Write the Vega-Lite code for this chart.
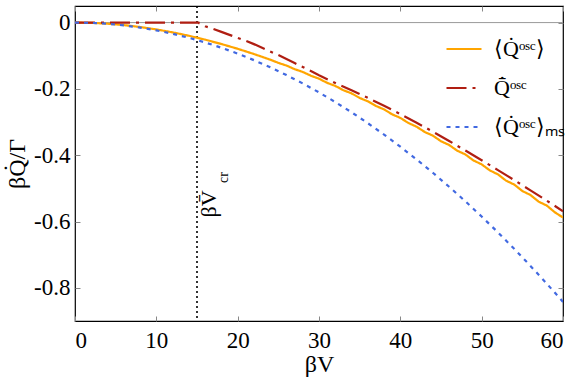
{
  "$schema": "https://vega.github.io/schema/vega-lite/v6.json",
  "width": 488,
  "height": 315,
  "autosize": {"type": "none"},
  "padding": {"left": 75, "top": 6, "right": 18, "bottom": 57},
  "background": "white",
  "config": {
    "view": {"stroke": "black", "strokeWidth": 1.2},
    "font": "Liberation Serif",
    "axis": {
      "labelFont": "Liberation Serif",
      "titleFont": "Liberation Serif",
      "labelColor": "black",
      "titleColor": "black",
      "labelFontSize": 23,
      "titleFontSize": 24,
      "titleFontWeight": "normal",
      "domain": false,
      "grid": false,
      "tickColor": "#888888",
      "tickSize": -5,
      "tickWidth": 1
    },
    "legend": {
      "orient": "none",
      "legendX": 370,
      "legendY": 24,
      "labelFont": "Liberation Serif",
      "labelFontSize": 22,
      "labelColor": "black",
      "symbolType": "stroke",
      "symbolSize": 1225,
      "symbolStrokeWidth": 2.2,
      "rowPadding": 9,
      "labelOffset": 11,
      "labelLimit": 200
    }
  },
  "datasets": {
    "curves": [
      {"x": 0, "y": 0, "s": "⟨Q̇ᵒˢᶜ⟩"},
      {"x": 2, "y": -0.0009, "s": "⟨Q̇ᵒˢᶜ⟩"},
      {"x": 4, "y": -0.0034, "s": "⟨Q̇ᵒˢᶜ⟩"},
      {"x": 6, "y": -0.0076, "s": "⟨Q̇ᵒˢᶜ⟩"},
      {"x": 8, "y": -0.0133, "s": "⟨Q̇ᵒˢᶜ⟩"},
      {"x": 10, "y": -0.0206, "s": "⟨Q̇ᵒˢᶜ⟩"},
      {"x": 12, "y": -0.0295, "s": "⟨Q̇ᵒˢᶜ⟩"},
      {"x": 14, "y": -0.0397, "s": "⟨Q̇ᵒˢᶜ⟩"},
      {"x": 16, "y": -0.0515, "s": "⟨Q̇ᵒˢᶜ⟩"},
      {"x": 18, "y": -0.0646, "s": "⟨Q̇ᵒˢᶜ⟩"},
      {"x": 20, "y": -0.0790, "s": "⟨Q̇ᵒˢᶜ⟩"},
      {"x": 22, "y": -0.0948, "s": "⟨Q̇ᵒˢᶜ⟩"},
      {"x": 24, "y": -0.1118, "s": "⟨Q̇ᵒˢᶜ⟩"},
      {"x": 25, "y": -0.1215, "s": "⟨Q̇ᵒˢᶜ⟩"},
      {"x": 26, "y": -0.1296, "s": "⟨Q̇ᵒˢᶜ⟩"},
      {"x": 27, "y": -0.1405, "s": "⟨Q̇ᵒˢᶜ⟩"},
      {"x": 28, "y": -0.1488, "s": "⟨Q̇ᵒˢᶜ⟩"},
      {"x": 29, "y": -0.1603, "s": "⟨Q̇ᵒˢᶜ⟩"},
      {"x": 30, "y": -0.1692, "s": "⟨Q̇ᵒˢᶜ⟩"},
      {"x": 31, "y": -0.1818, "s": "⟨Q̇ᵒˢᶜ⟩"},
      {"x": 32, "y": -0.1910, "s": "⟨Q̇ᵒˢᶜ⟩"},
      {"x": 33, "y": -0.2040, "s": "⟨Q̇ᵒˢᶜ⟩"},
      {"x": 34, "y": -0.2135, "s": "⟨Q̇ᵒˢᶜ⟩"},
      {"x": 35, "y": -0.2272, "s": "⟨Q̇ᵒˢᶜ⟩"},
      {"x": 36, "y": -0.2375, "s": "⟨Q̇ᵒˢᶜ⟩"},
      {"x": 37, "y": -0.2515, "s": "⟨Q̇ᵒˢᶜ⟩"},
      {"x": 38, "y": -0.2618, "s": "⟨Q̇ᵒˢᶜ⟩"},
      {"x": 39, "y": -0.2768, "s": "⟨Q̇ᵒˢᶜ⟩"},
      {"x": 40, "y": -0.2874, "s": "⟨Q̇ᵒˢᶜ⟩"},
      {"x": 41, "y": -0.3030, "s": "⟨Q̇ᵒˢᶜ⟩"},
      {"x": 42, "y": -0.3140, "s": "⟨Q̇ᵒˢᶜ⟩"},
      {"x": 43, "y": -0.3300, "s": "⟨Q̇ᵒˢᶜ⟩"},
      {"x": 44, "y": -0.3410, "s": "⟨Q̇ᵒˢᶜ⟩"},
      {"x": 45, "y": -0.3578, "s": "⟨Q̇ᵒˢᶜ⟩"},
      {"x": 46, "y": -0.3692, "s": "⟨Q̇ᵒˢᶜ⟩"},
      {"x": 47, "y": -0.3865, "s": "⟨Q̇ᵒˢᶜ⟩"},
      {"x": 48, "y": -0.3978, "s": "⟨Q̇ᵒˢᶜ⟩"},
      {"x": 49, "y": -0.4160, "s": "⟨Q̇ᵒˢᶜ⟩"},
      {"x": 50, "y": -0.4275, "s": "⟨Q̇ᵒˢᶜ⟩"},
      {"x": 51, "y": -0.4458, "s": "⟨Q̇ᵒˢᶜ⟩"},
      {"x": 52, "y": -0.4578, "s": "⟨Q̇ᵒˢᶜ⟩"},
      {"x": 53, "y": -0.4768, "s": "⟨Q̇ᵒˢᶜ⟩"},
      {"x": 54, "y": -0.4885, "s": "⟨Q̇ᵒˢᶜ⟩"},
      {"x": 55, "y": -0.5080, "s": "⟨Q̇ᵒˢᶜ⟩"},
      {"x": 56, "y": -0.5200, "s": "⟨Q̇ᵒˢᶜ⟩"},
      {"x": 57, "y": -0.5400, "s": "⟨Q̇ᵒˢᶜ⟩"},
      {"x": 58, "y": -0.5518, "s": "⟨Q̇ᵒˢᶜ⟩"},
      {"x": 59, "y": -0.5722, "s": "⟨Q̇ᵒˢᶜ⟩"},
      {"x": 60, "y": -0.5880, "s": "⟨Q̇ᵒˢᶜ⟩"},

      {"x": 0, "y": 0, "s": "Q̇̄ᵒˢᶜ"},
      {"x": 15.2, "y": 0, "s": "Q̇̄ᵒˢᶜ"},
      {"x": 15.25, "y": -0.002, "s": "Q̇̄ᵒˢᶜ"},
      {"x": 16, "y": -0.011, "s": "Q̇̄ᵒˢᶜ"},
      {"x": 17, "y": -0.019, "s": "Q̇̄ᵒˢᶜ"},
      {"x": 18, "y": -0.028, "s": "Q̇̄ᵒˢᶜ"},
      {"x": 19, "y": -0.037, "s": "Q̇̄ᵒˢᶜ"},
      {"x": 20, "y": -0.046, "s": "Q̇̄ᵒˢᶜ"},
      {"x": 21, "y": -0.055, "s": "Q̇̄ᵒˢᶜ"},
      {"x": 22, "y": -0.065, "s": "Q̇̄ᵒˢᶜ"},
      {"x": 23, "y": -0.076, "s": "Q̇̄ᵒˢᶜ"},
      {"x": 24, "y": -0.087, "s": "Q̇̄ᵒˢᶜ"},
      {"x": 25, "y": -0.098, "s": "Q̇̄ᵒˢᶜ"},
      {"x": 26, "y": -0.110, "s": "Q̇̄ᵒˢᶜ"},
      {"x": 27, "y": -0.122, "s": "Q̇̄ᵒˢᶜ"},
      {"x": 28, "y": -0.134, "s": "Q̇̄ᵒˢᶜ"},
      {"x": 29, "y": -0.146, "s": "Q̇̄ᵒˢᶜ"},
      {"x": 30, "y": -0.159, "s": "Q̇̄ᵒˢᶜ"},
      {"x": 32, "y": -0.182, "s": "Q̇̄ᵒˢᶜ"},
      {"x": 34, "y": -0.204, "s": "Q̇̄ᵒˢᶜ"},
      {"x": 36, "y": -0.227, "s": "Q̇̄ᵒˢᶜ"},
      {"x": 38, "y": -0.251, "s": "Q̇̄ᵒˢᶜ"},
      {"x": 40, "y": -0.276, "s": "Q̇̄ᵒˢᶜ"},
      {"x": 42, "y": -0.302, "s": "Q̇̄ᵒˢᶜ"},
      {"x": 44, "y": -0.329, "s": "Q̇̄ᵒˢᶜ"},
      {"x": 46, "y": -0.357, "s": "Q̇̄ᵒˢᶜ"},
      {"x": 48, "y": -0.386, "s": "Q̇̄ᵒˢᶜ"},
      {"x": 50, "y": -0.415, "s": "Q̇̄ᵒˢᶜ"},
      {"x": 52, "y": -0.445, "s": "Q̇̄ᵒˢᶜ"},
      {"x": 54, "y": -0.475, "s": "Q̇̄ᵒˢᶜ"},
      {"x": 56, "y": -0.506, "s": "Q̇̄ᵒˢᶜ"},
      {"x": 58, "y": -0.537, "s": "Q̇̄ᵒˢᶜ"},
      {"x": 60, "y": -0.569, "s": "Q̇̄ᵒˢᶜ"},

      {"x": 0, "y": 0, "s": "⟨Q̇ᵒˢᶜ⟩ₘₛ"},
      {"x": 2, "y": -0.0009, "s": "⟨Q̇ᵒˢᶜ⟩ₘₛ"},
      {"x": 4, "y": -0.0037, "s": "⟨Q̇ᵒˢᶜ⟩ₘₛ"},
      {"x": 6, "y": -0.0084, "s": "⟨Q̇ᵒˢᶜ⟩ₘₛ"},
      {"x": 8, "y": -0.0150, "s": "⟨Q̇ᵒˢᶜ⟩ₘₛ"},
      {"x": 10, "y": -0.0234, "s": "⟨Q̇ᵒˢᶜ⟩ₘₛ"},
      {"x": 12, "y": -0.0337, "s": "⟨Q̇ᵒˢᶜ⟩ₘₛ"},
      {"x": 14, "y": -0.0459, "s": "⟨Q̇ᵒˢᶜ⟩ₘₛ"},
      {"x": 16, "y": -0.0599, "s": "⟨Q̇ᵒˢᶜ⟩ₘₛ"},
      {"x": 18, "y": -0.0758, "s": "⟨Q̇ᵒˢᶜ⟩ₘₛ"},
      {"x": 20, "y": -0.0936, "s": "⟨Q̇ᵒˢᶜ⟩ₘₛ"},
      {"x": 22, "y": -0.1133, "s": "⟨Q̇ᵒˢᶜ⟩ₘₛ"},
      {"x": 24, "y": -0.1348, "s": "⟨Q̇ᵒˢᶜ⟩ₘₛ"},
      {"x": 26, "y": -0.1582, "s": "⟨Q̇ᵒˢᶜ⟩ₘₛ"},
      {"x": 28, "y": -0.1835, "s": "⟨Q̇ᵒˢᶜ⟩ₘₛ"},
      {"x": 30, "y": -0.2106, "s": "⟨Q̇ᵒˢᶜ⟩ₘₛ"},
      {"x": 32, "y": -0.2396, "s": "⟨Q̇ᵒˢᶜ⟩ₘₛ"},
      {"x": 34, "y": -0.2705, "s": "⟨Q̇ᵒˢᶜ⟩ₘₛ"},
      {"x": 36, "y": -0.3033, "s": "⟨Q̇ᵒˢᶜ⟩ₘₛ"},
      {"x": 38, "y": -0.3379, "s": "⟨Q̇ᵒˢᶜ⟩ₘₛ"},
      {"x": 40, "y": -0.3744, "s": "⟨Q̇ᵒˢᶜ⟩ₘₛ"},
      {"x": 42, "y": -0.4128, "s": "⟨Q̇ᵒˢᶜ⟩ₘₛ"},
      {"x": 44, "y": -0.4530, "s": "⟨Q̇ᵒˢᶜ⟩ₘₛ"},
      {"x": 46, "y": -0.4951, "s": "⟨Q̇ᵒˢᶜ⟩ₘₛ"},
      {"x": 48, "y": -0.5391, "s": "⟨Q̇ᵒˢᶜ⟩ₘₛ"},
      {"x": 50, "y": -0.5850, "s": "⟨Q̇ᵒˢᶜ⟩ₘₛ"},
      {"x": 52, "y": -0.6327, "s": "⟨Q̇ᵒˢᶜ⟩ₘₛ"},
      {"x": 54, "y": -0.6823, "s": "⟨Q̇ᵒˢᶜ⟩ₘₛ"},
      {"x": 56, "y": -0.7338, "s": "⟨Q̇ᵒˢᶜ⟩ₘₛ"},
      {"x": 58, "y": -0.7872, "s": "⟨Q̇ᵒˢᶜ⟩ₘₛ"},
      {"x": 60, "y": -0.8424, "s": "⟨Q̇ᵒˢᶜ⟩ₘₛ"}
    ]
  },
  "layer": [
    {
      "data": {"values": [{"y": 0}]},
      "mark": {"type": "rule", "color": "#999999", "strokeWidth": 1},
      "encoding": {
        "y": {"field": "y", "type": "quantitative", "scale": {"domain": [-0.9, 0.05], "nice": false, "zero": false},
          "axis": {"orient": "right", "labels": false, "title": null, "values": [0, -0.2, -0.4, -0.6, -0.8]}}
      }
    },
    {
      "data": {"values": [{"x": 15}]},
      "mark": {"type": "rule", "color": "black", "strokeWidth": 1.6, "strokeDash": [2, 3]},
      "encoding": {
        "x": {"field": "x", "type": "quantitative", "scale": {"domain": [0, 60], "nice": false},
          "axis": {"orient": "top", "labels": false, "title": null, "values": [0, 10, 20, 30, 40, 50, 60]}}
      }
    },
    {
      "data": {"name": "curves"},
      "mark": {"type": "line", "strokeWidth": 2.2, "clip": true},
      "encoding": {
        "x": {"field": "x", "type": "quantitative", "scale": {"domain": [0, 60], "nice": false},
          "axis": {"orient": "bottom", "title": "βV", "values": [0, 10, 20, 30, 40, 50, 60], "labelPadding": 13, "titlePadding": 0}},
        "y": {"field": "y", "type": "quantitative", "scale": {"domain": [-0.9, 0.05], "nice": false, "zero": false},
          "axis": {"orient": "left", "title": "βQ̇/Γ", "values": [0, -0.2, -0.4, -0.6, -0.8],
            "labelExpr": "datum.value == 0 ? '0' : toString(round(datum.value*10)/10)", "labelPadding": 10, "titlePadding": 4}},
        "color": {"field": "s", "type": "nominal", "title": null,
          "scale": {"domain": ["⟨Q̇ᵒˢᶜ⟩", "Q̇̄ᵒˢᶜ", "⟨Q̇ᵒˢᶜ⟩ₘₛ"], "range": ["#FFA500", "#B01E12", "#4169E1"]}},
        "strokeDash": {"field": "s", "type": "nominal", "title": null,
          "scale": {"domain": ["⟨Q̇ᵒˢᶜ⟩", "Q̇̄ᵒˢᶜ", "⟨Q̇ᵒˢᶜ⟩ₘₛ"], "range": [[1, 0], [20, 6, 3, 6], [4, 5]]}},
        "order": {"field": "x", "type": "quantitative"}
      }
    },
    {
      "data": {"values": [{"x": 16.48, "y": -0.588, "t": "βV̄"}]},
      "mark": {"type": "text", "angle": 270, "align": "left", "baseline": "middle", "fontSize": 22, "font": "Liberation Serif", "color": "black"},
      "encoding": {
        "x": {"field": "x", "type": "quantitative", "axis": null},
        "y": {"field": "y", "type": "quantitative", "axis": null},
        "text": {"field": "t"}
      }
    },
    {
      "data": {"values": [{"x": 18.3, "y": -0.484, "t": "cr"}]},
      "mark": {"type": "text", "angle": 270, "align": "left", "baseline": "middle", "fontSize": 14, "font": "Liberation Serif", "color": "black"},
      "encoding": {
        "x": {"field": "x", "type": "quantitative", "axis": null},
        "y": {"field": "y", "type": "quantitative", "axis": null},
        "text": {"field": "t"}
      }
    }
  ],
  "resolve": {"axis": {"x": "independent", "y": "independent"}}
}
